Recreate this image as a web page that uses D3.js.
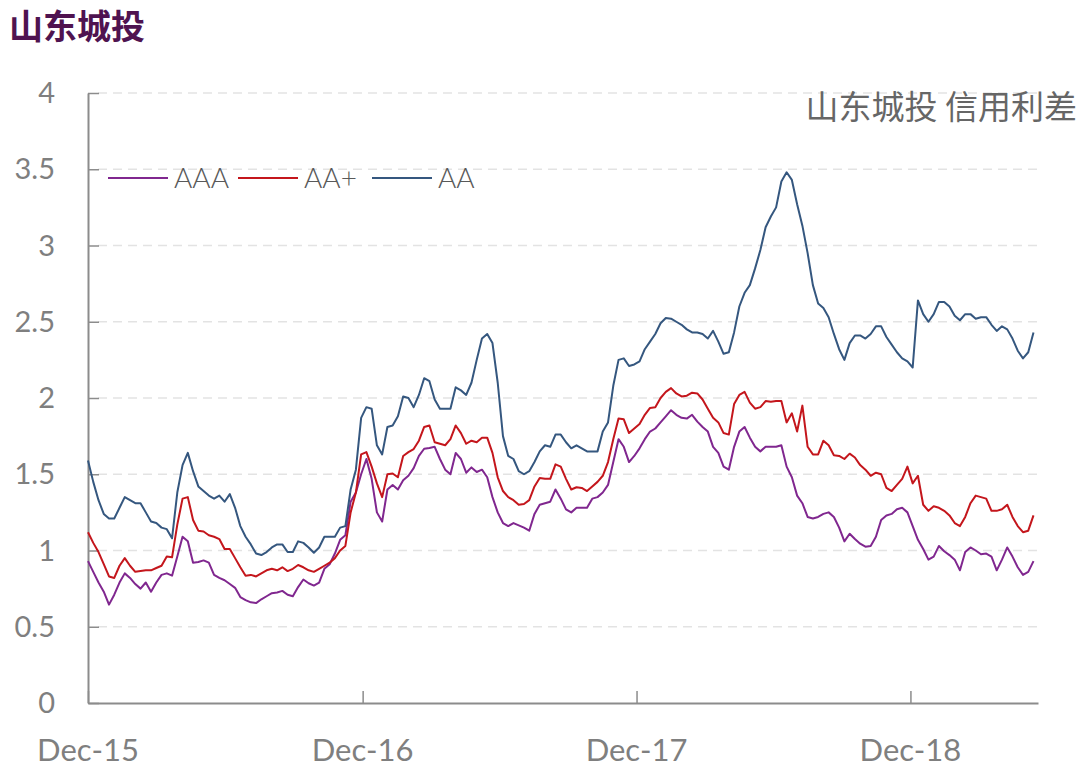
<!DOCTYPE html>
<html>
<head>
<meta charset="utf-8">
<script src="https://cdn.jsdelivr.net/npm/d3@7"></script>
<style>
  html, body { margin: 0; padding: 0; background: #fff; }
  svg { display: block; }
</style>
</head>
<body>
<svg id="chart"></svg>
<script>
// weekly spreads, first week = Dec 1 2015
const startDate = "2015-12-01";
const seriesNames = ["AAA", "AA+", "AA"];
const seriesColors = ["#80278f", "#c4161c", "#35577f"];

const aaa = [
  0.93, 0.86, 0.79, 0.73, 0.645, 0.71, 0.79, 0.85, 0.82, 0.78,
  0.75, 0.79, 0.73, 0.79, 0.84, 0.85, 0.835, 0.96, 1.09, 1.06,
  0.92, 0.925, 0.935, 0.92, 0.84, 0.82, 0.805, 0.78, 0.755, 0.695,
  0.675, 0.66, 0.655, 0.68, 0.70, 0.72, 0.725, 0.735, 0.71, 0.70,
  0.76, 0.81, 0.785, 0.77, 0.79, 0.88, 0.91, 0.98, 1.07, 1.10,
  1.32, 1.38, 1.50, 1.60, 1.47, 1.25, 1.19, 1.40, 1.43, 1.40,
  1.46, 1.49, 1.54, 1.62, 1.667, 1.672, 1.68, 1.60, 1.53, 1.50,
  1.64, 1.60, 1.51, 1.545, 1.515, 1.53, 1.48, 1.35, 1.25, 1.18,
  1.16, 1.18, 1.165, 1.15, 1.13, 1.24, 1.30, 1.31, 1.32, 1.40,
  1.34, 1.27, 1.25, 1.28, 1.28, 1.28, 1.34, 1.35, 1.38, 1.43,
  1.58, 1.73, 1.68, 1.58, 1.62, 1.67, 1.73, 1.78, 1.80, 1.84,
  1.88, 1.92, 1.89, 1.87, 1.865, 1.89, 1.845, 1.81, 1.78, 1.68,
  1.64, 1.55, 1.53, 1.68, 1.78, 1.81, 1.74, 1.68, 1.65, 1.68,
  1.68, 1.68, 1.69, 1.55, 1.48, 1.36, 1.31, 1.22, 1.21, 1.22,
  1.24, 1.25, 1.22, 1.15, 1.06, 1.11, 1.075, 1.045, 1.025, 1.03,
  1.09, 1.20, 1.23, 1.24, 1.27, 1.28, 1.25, 1.16, 1.07, 1.01,
  0.94, 0.96, 1.03, 0.995, 0.97, 0.94, 0.87, 0.99, 1.02, 1.00,
  0.975, 0.98, 0.96, 0.87, 0.94, 1.02, 0.96, 0.89, 0.84, 0.86,
  0.93
];

const aaPlus = [
  1.12, 1.05, 0.99, 0.91, 0.83, 0.82, 0.90, 0.95, 0.90, 0.86,
  0.865, 0.87, 0.87, 0.885, 0.90, 0.96, 0.955, 1.17, 1.34, 1.35,
  1.20, 1.13, 1.125, 1.10, 1.09, 1.075, 1.01, 1.01, 0.95, 0.89,
  0.835, 0.84, 0.83, 0.85, 0.87, 0.88, 0.87, 0.89, 0.865, 0.88,
  0.905, 0.89, 0.87, 0.86, 0.88, 0.90, 0.92, 0.95, 1.00, 1.03,
  1.25, 1.38, 1.63, 1.645, 1.55, 1.44, 1.35, 1.50, 1.505, 1.48,
  1.62, 1.645, 1.665, 1.72, 1.81, 1.82, 1.71, 1.70, 1.69, 1.73,
  1.82, 1.77, 1.70, 1.72, 1.71, 1.74, 1.74, 1.64, 1.48, 1.39,
  1.35, 1.33, 1.30, 1.305, 1.33, 1.42, 1.475, 1.47, 1.47, 1.565,
  1.55, 1.47, 1.40, 1.415, 1.41, 1.39, 1.42, 1.45, 1.49, 1.58,
  1.73, 1.865, 1.86, 1.77, 1.80, 1.83, 1.89, 1.935, 1.94, 2.00,
  2.04, 2.065, 2.03, 2.01, 2.015, 2.035, 2.03, 1.99, 1.93, 1.87,
  1.84, 1.77, 1.76, 1.96, 2.02, 2.04, 1.97, 1.93, 1.94, 1.98,
  1.975, 1.98, 1.98, 1.84, 1.90, 1.78, 1.95, 1.68, 1.63, 1.63,
  1.72, 1.69, 1.625, 1.62, 1.60, 1.635, 1.61, 1.56, 1.53, 1.49,
  1.51, 1.50, 1.41, 1.39, 1.43, 1.47, 1.55, 1.44, 1.49, 1.30,
  1.26, 1.29, 1.28, 1.26, 1.23, 1.18, 1.16, 1.22, 1.31, 1.36,
  1.35, 1.34, 1.26, 1.26, 1.27, 1.30, 1.22, 1.16, 1.12, 1.13,
  1.23
];

const aa = [
  1.59, 1.45, 1.33, 1.24, 1.21, 1.21, 1.28, 1.35, 1.33, 1.31,
  1.31, 1.25, 1.19, 1.18, 1.15, 1.14, 1.08, 1.38, 1.56, 1.64,
  1.52, 1.42, 1.39, 1.36, 1.34, 1.36, 1.32, 1.37, 1.28, 1.16,
  1.09, 1.04, 0.98, 0.97, 0.99, 1.02, 1.04, 1.04, 0.99, 0.99,
  1.06, 1.05, 1.02, 0.985, 1.02, 1.09, 1.09, 1.09, 1.15, 1.16,
  1.40, 1.53, 1.87, 1.94, 1.93, 1.69, 1.63, 1.81, 1.82, 1.88,
  2.01, 2.00, 1.94, 2.02, 2.13, 2.11, 1.99, 1.93, 1.93, 1.93,
  2.07, 2.05, 2.02, 2.10, 2.25, 2.39, 2.42, 2.36, 2.10, 1.75,
  1.62, 1.60, 1.52, 1.50, 1.52, 1.58, 1.65, 1.69, 1.68, 1.76,
  1.76, 1.71, 1.67, 1.69, 1.67, 1.65, 1.65, 1.65, 1.78, 1.84,
  2.08, 2.25, 2.26, 2.21, 2.22, 2.24, 2.32, 2.37, 2.42, 2.49,
  2.525, 2.52, 2.50, 2.48, 2.45, 2.43, 2.43, 2.42, 2.39, 2.44,
  2.37, 2.29, 2.30, 2.43, 2.60, 2.69, 2.74, 2.85, 2.97, 3.12,
  3.19, 3.25, 3.42, 3.48, 3.43, 3.27, 3.13, 2.95, 2.74, 2.62,
  2.59, 2.53, 2.42, 2.32, 2.25, 2.36, 2.41, 2.41, 2.39, 2.42,
  2.47, 2.47, 2.40, 2.35, 2.30, 2.26, 2.24, 2.20, 2.64, 2.55,
  2.50, 2.55, 2.63, 2.63, 2.60, 2.54, 2.51, 2.55, 2.55, 2.52,
  2.53, 2.53, 2.48, 2.44, 2.47, 2.45, 2.39, 2.31, 2.26, 2.30,
  2.43
];

const yTicks = [0, 0.5, 1, 1.5, 2, 2.5, 3, 3.5, 4];
const xTickDates = ["2015-12-01", "2016-12-01", "2017-12-01", "2018-12-01"];
const xDomain = ["2015-12-01", "2019-05-20"];

const W = 1080, H = 782;
const margin = { left: 88, right: 42, top: 93, bottom: 79 };
const parse = d3.utcParse("%Y-%m-%d");
const t0 = parse(startDate);
const dates = aaa.map((d, i) => d3.utcDay.offset(t0, i * 7));
const series = [aaa, aaPlus, aa];

const svg = d3.select("#chart").attr("width", W).attr("height", H);
const latin = "Lato, 'Noto Sans', sans-serif";
const cjk = "'Noto Sans CJK SC', sans-serif";

const x = d3.scaleUtc()
  .domain(xDomain.map(parse))
  .range([margin.left, W - margin.right]);
const y = d3.scaleLinear()
  .domain([0, 4])
  .range([H - margin.bottom, margin.top]);

// gridlines
svg.append("g")
  .selectAll("line")
  .data(yTicks.filter(d => d > 0))
  .join("line")
  .attr("x1", margin.left + 10)
  .attr("x2", W - margin.right)
  .attr("y1", d => y(d))
  .attr("y2", d => y(d))
  .attr("stroke", "#e3e3e3")
  .attr("stroke-width", 1.5)
  .attr("stroke-dasharray", "9,6");

// y axis, ticks pointing into the plot
const yAxis = svg.append("g")
  .attr("transform", `translate(${margin.left},0)`)
  .call(d3.axisRight(y).tickValues(yTicks).tickSize(11).tickSizeOuter(0).tickFormat(""));
yAxis.select(".domain").attr("stroke", "#8c8c8c").attr("stroke-width", 2);
yAxis.selectAll(".tick line").attr("stroke", "#8c8c8c").attr("stroke-width", 1.5);

svg.append("g")
  .selectAll("text")
  .data(yTicks)
  .join("text")
  .attr("x", 55)
  .attr("y", d => y(d) + 10)
  .attr("text-anchor", "end")
  .attr("font-family", latin)
  .attr("font-size", 29)
  .attr("fill", "#7f7f7f")
  .text(d => d);

// x axis, ticks pointing up
const xAxis = svg.append("g")
  .attr("transform", `translate(0,${H - margin.bottom})`)
  .call(d3.axisTop(x).tickValues(xTickDates.map(parse)).tickSize(12).tickSizeOuter(0).tickFormat(""));
xAxis.select(".domain").attr("stroke", "#8c8c8c").attr("stroke-width", 2);
xAxis.selectAll(".tick line").attr("stroke", "#8c8c8c").attr("stroke-width", 1.5);

svg.append("g")
  .selectAll("text")
  .data(xTickDates)
  .join("text")
  .attr("x", d => x(parse(d)))
  .attr("y", H - margin.bottom + 58)
  .attr("text-anchor", "middle")
  .attr("font-family", latin)
  .attr("font-size", 31)
  .attr("fill", "#7f7f7f")
  .text(d => d3.utcFormat("%b-%y")(parse(d)));

// lines
const line = d3.line()
  .x((d, i) => x(dates[i]))
  .y(d => y(d));

svg.append("g")
  .selectAll("path")
  .data(series)
  .join("path")
  .attr("d", line)
  .attr("fill", "none")
  .attr("stroke", (d, i) => seriesColors[i])
  .attr("stroke-width", 2)
  .attr("stroke-linejoin", "round");

// legend
const legendX = [108, 238, 372];
const leg = svg.append("g")
  .selectAll("g")
  .data(seriesNames)
  .join("g")
  .attr("transform", (d, i) => `translate(${legendX[i]},178)`);
leg.append("line")
  .attr("x1", 0).attr("x2", 60)
  .attr("stroke", (d, i) => seriesColors[i])
  .attr("stroke-width", 2);
leg.append("text")
  .attr("x", 66)
  .attr("y", 10)
  .attr("font-family", latin)
  .attr("font-size", 28)
  .attr("font-weight", 300)
  .attr("fill", "#595959")
  .text(d => d);

// titles
svg.append("text")
  .attr("x", 9)
  .attr("y", 39)
  .attr("font-family", cjk)
  .attr("font-size", 34)
  .attr("font-weight", 700)
  .attr("fill", "#4f1350")
  .text("山东城投");

svg.append("text")
  .attr("x", 1077)
  .attr("y", 119)
  .attr("text-anchor", "end")
  .attr("font-family", cjk)
  .attr("font-size", 33)
  .attr("fill", "#666666")
  .text("山东城投 信用利差");
</script>
</body>
</html>
